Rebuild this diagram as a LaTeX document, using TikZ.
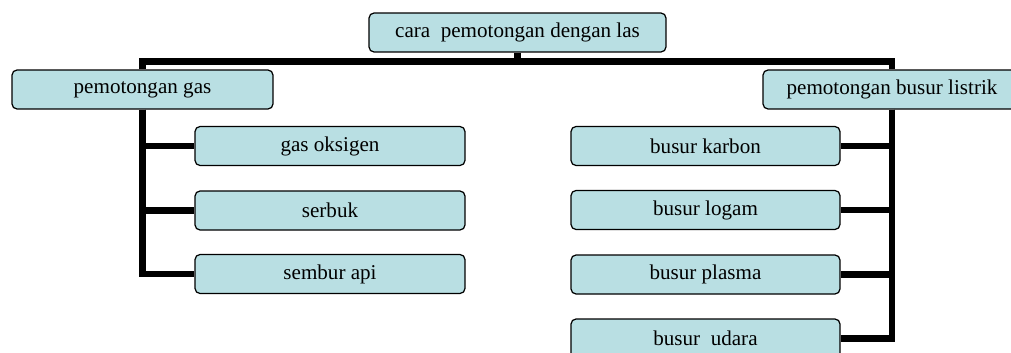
\documentclass[tikz,border=0pt]{standalone}
\usepackage{fontspec}
\setmainfont{Liberation Serif}
\definecolor{boxfill}{RGB}{185,223,227}

\begin{document}
\begin{tikzpicture}[x=0.02cm, y=-0.02cm,
        box/.style={draw, fill=boxfill, line width=0.7pt, rounded corners=0.1cm, inner sep=0pt,
            minimum height=0.78cm, font=\fontsize{12}{14}\selectfont},
        link/.style={line width=3.6pt, line join=miter}]

        \clip (0, 0) rectangle (1011, 352); % picture frame

        \node[box, minimum width=5.94cm] (root) at (517.5, 32.5) {cara\ \ pemotongan dengan las};
        \node[box, minimum width=5.22cm] (gas) at (142.5, 89.5) {pemotongan gas};
        \node[box, minimum width=5.16cm] (busur) at (892, 89.5) {pemotongan busur listrik};
        \coordinate (bus) at (517.5, 61.5);

        % gas side
        \foreach \n/\y/\t in {oksigen/146/gas oksigen, serbuk/210.5/serbuk, sembur/274/sembur api} {
            \node[box, minimum width=5.4cm] (\n) at (330, \y) {\t};
        }

        % busur side
        \foreach \n/\y/\t in {karbon/146/busur karbon, logam/210/busur logam, plasma/274.5/busur plasma, udara/338.5/busur\ \ udara} {
            \node[box, minimum width=5.38cm] (\n) at (705.5, \y) {\t};
        }

        \draw[link] (gas.north) |- (bus) -| (busur.north); % main bar
        \draw[link] (root.south) -- (root.south |- bus);

        \foreach \n in {oksigen, serbuk, sembur} {
            \draw[link] (gas.south) |- (\n.west);
        }
        \foreach \n in {karbon, logam, plasma, udara} {
            \draw[link] (busur.south) |- (\n.east);
        }

    \end{tikzpicture}
\end{document}
